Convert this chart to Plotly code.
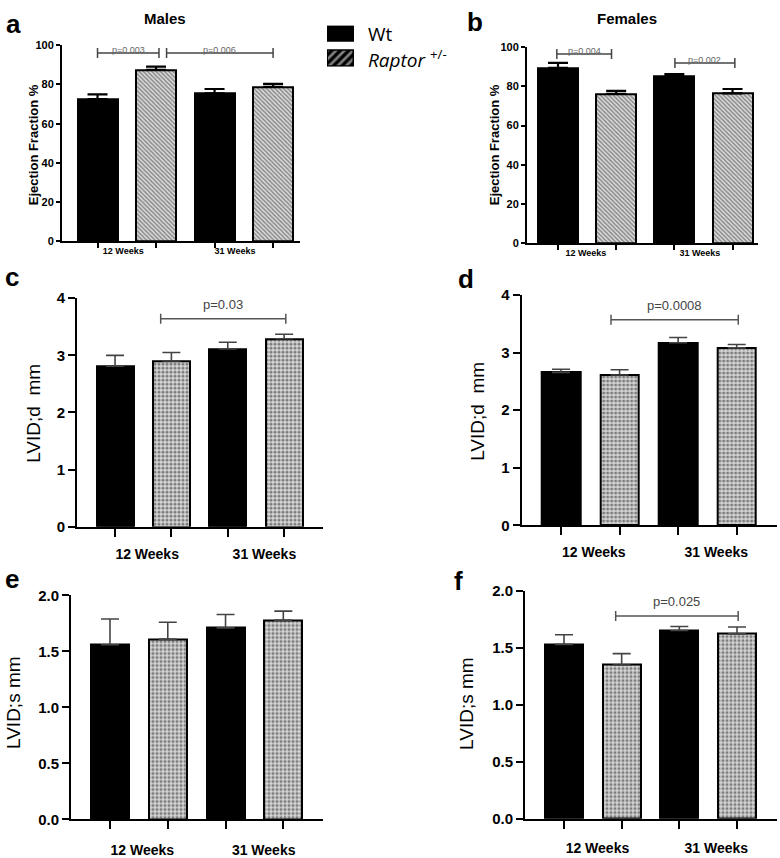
import plotly.graph_objects as go

# ---------------- data ----------------
groups = ["12 Weeks", "31 Weeks"]
series_names = ["Wt", "Raptor +/-"]

# a: Males, Ejection Fraction %
ef_male_wt = [72.5, 75.5]
ef_male_wt_err = [2.5, 2.2]
ef_male_rap = [87.5, 78.8]
ef_male_rap_err = [1.6, 1.5]

# b: Females, Ejection Fraction %
ef_female_wt = [89.5, 85.3]
ef_female_wt_err = [2.5, 1.0]
ef_female_rap = [76.2, 76.5]
ef_female_rap_err = [1.5, 2.2]

# c: Males, LVID;d mm
lvidd_male_wt = [2.81, 3.11]
lvidd_male_wt_err = [0.19, 0.12]
lvidd_male_rap = [2.90, 3.29]
lvidd_male_rap_err = [0.15, 0.08]

# d: Females, LVID;d mm
lvidd_female_wt = [2.655, 3.17]
lvidd_female_wt_err = [0.055, 0.09]
lvidd_female_rap = [2.61, 3.08]
lvidd_female_rap_err = [0.09, 0.06]

# e: Males, LVID;s mm
lvids_male_wt = [1.56, 1.71]
lvids_male_wt_err = [0.23, 0.12]
lvids_male_rap = [1.61, 1.78]
lvids_male_rap_err = [0.15, 0.08]

# f: Females, LVID;s mm
lvids_female_wt = [1.528, 1.65]
lvids_female_wt_err = [0.085, 0.035]
lvids_female_rap = [1.347, 1.62]
lvids_female_rap_err = [0.10, 0.06]

# significance brackets: (label, from, to, level)
brackets_a = [("p=0.003", 0.0, 1.05, 96.0), ("p=0.006", 1.18, 3.0, 96.0)]
brackets_b = [("p=0.004", -0.02, 0.92, 96.5), ("p=0.002", 2.01, 3.04, 92.0)]
brackets_c = [("p=0.03", 0.81, 3.03, 3.64)]
brackets_d = [("p=0.0008", 0.854, 3.027, 3.57)]
brackets_e = []
brackets_f = [("p=0.025", 0.896, 3.02, 1.777)]

W, H = 780, 858
FONT = "Liberation Sans, Arial, sans-serif"


def px_x(p):
    return p / W


def px_y(p):
    return 1 - p / H


panels = [
    dict(letter="a", wt=ef_male_wt, wt_err=ef_male_wt_err, rap=ef_male_rap, rap_err=ef_male_rap_err,
         brackets=brackets_a, ytitle="Ejection Fraction %", small=True, xlen=0,
         xdom=(62, 300), ydom=(37, 237), yrange=(0, 100), dtick=20, tickformat="d",
         xrange=(-0.607, 3.46), barw=0.684, lblpos=(0.44, 2.35),
         letter_pos=(13, 15), title_pos=(33, 139), title="Males", title_xy=(165, 10)),
    dict(letter="b", wt=ef_female_wt, wt_err=ef_female_wt_err, rap=ef_female_rap, rap_err=ef_female_rap_err,
         brackets=brackets_b, ytitle="Ejection Fraction %", small=True, xlen=0,
         xdom=(527, 758), ydom=(39, 239), yrange=(0, 100), dtick=20, tickformat="d",
         xrange=(-0.533, 3.438), barw=0.688, lblpos=(0.48, 2.44),
         letter_pos=(475, 13), title_pos=(494, 139), title="Females", title_xy=(627, 10)),
    dict(letter="c", wt=lvidd_male_wt, wt_err=lvidd_male_wt_err, rap=lvidd_male_rap, rap_err=lvidd_male_rap_err,
         brackets=brackets_c, ytitle="LVID;d\u00a0 mm", small=False, xlen=13,
         xdom=(77, 323), ydom=(295, 528.3), yrange=(0, 4), dtick=1, tickformat="d",
         xrange=(-0.675, 3.69), barw=0.657, lblpos=(0.57, 2.65),
         letter_pos=(12, 273), title_pos=(34, 413)),
    dict(letter="d", wt=lvidd_female_wt, wt_err=lvidd_female_wt_err, rap=lvidd_female_rap, rap_err=lvidd_female_rap_err,
         brackets=brackets_d, ytitle="LVID;d\u00a0 mm", small=False, xlen=13,
         xdom=(521.7, 776.7), ydom=(291.7, 526.7), yrange=(0, 4), dtick=1, tickformat="d",
         xrange=(-0.671, 3.683), barw=0.657, lblpos=(0.56, 2.65),
         letter_pos=(466, 275), title_pos=(478, 411)),
    dict(letter="e", wt=lvids_male_wt, wt_err=lvids_male_wt_err, rap=lvids_male_rap, rap_err=lvids_male_rap_err,
         brackets=brackets_e, ytitle="LVID;s mm", small=False, xlen=17,
         xdom=(71, 323), ydom=(598.3, 826.7), yrange=(0, 2), dtick=0.5, tickformat=".1f",
         xrange=(-0.675, 3.687), barw=0.658, lblpos=(0.56, 2.66),
         letter_pos=(12, 582), title_pos=(14, 708)),
    dict(letter="f", wt=lvids_female_wt, wt_err=lvids_female_wt_err, rap=lvids_female_rap, rap_err=lvids_female_rap_err,
         brackets=brackets_f, ytitle="LVID;s mm", small=False, xlen=16,
         xdom=(525, 776.7), ydom=(593.3, 826), yrange=(0, 2), dtick=0.5, tickformat=".1f",
         xrange=(-0.676, 3.688), barw=0.659, lblpos=(0.58, 2.64),
         letter_pos=(458, 584), title_pos=(467, 709)),
]

fig = go.Figure()
layout = dict(
    width=W, height=H, margin=dict(l=0, r=0, t=0, b=0),
    paper_bgcolor="white", plot_bgcolor="rgba(0,0,0,0)",
    showlegend=False, font=dict(family=FONT, color="black"),
    bargap=0,
)
annotations = []
shapes = []

wt_x = [2 * i for i in range(len(groups))]
rap_x = [2 * i + 1 for i in range(len(groups))]

for k, p in enumerate(panels, start=1):
    xa = "x" if k == 1 else f"x{k}"
    ya = "y" if k == 1 else f"y{k}"
    small = p["small"]
    if small:
        hatch = dict(shape="\\", fgcolor="#333333", bgcolor="#dedede", size=3, solidity=0.5)
        err_col, err_th, err_w, outline = "black", 2.2, 10, 2
    else:
        hatch = dict(shape=".", fgcolor="#222222", bgcolor="#d8d8d8", size=4, solidity=0.5)
        err_col, err_th, err_w, outline = "#444444", 1.6, 9, 2

    fig.add_trace(go.Bar(
        x=wt_x, y=p["wt"], width=p["barw"], name=series_names[0], xaxis=xa, yaxis=ya,
        marker=dict(color="black", line=dict(color="black", width=outline)),
        error_y=dict(type="data", symmetric=False, array=p["wt_err"], arrayminus=[0] * len(groups),
                     color=err_col, thickness=err_th, width=err_w),
        showlegend=False, hoverinfo="x+y"))
    fig.add_trace(go.Bar(
        x=rap_x, y=p["rap"], width=p["barw"], name=series_names[1], xaxis=xa, yaxis=ya,
        marker=dict(color="white", pattern=hatch, line=dict(color="black", width=outline)),
        error_y=dict(type="data", symmetric=False, array=p["rap_err"], arrayminus=[0] * len(groups),
                     color=err_col, thickness=err_th, width=err_w),
        showlegend=False, hoverinfo="x+y"))

    xkey = "xaxis" if k == 1 else f"xaxis{k}"
    ykey = "yaxis" if k == 1 else f"yaxis{k}"
    x0, x1 = p["xdom"]
    ytop, ybot = p["ydom"]
    layout[xkey] = dict(
        domain=[px_x(x0), px_x(x1)], range=list(p["xrange"]), anchor=ya,
        showline=True, linewidth=2, linecolor="black", showgrid=False, zeroline=False,
        tickmode="array", tickvals=list(p["lblpos"]), ticktext=groups,
        ticks="outside", ticklen=p["xlen"], tickcolor="rgba(0,0,0,0)",
        tickfont=dict(family=FONT, size=(9 if small else 14), weight="bold", color="black"),
        minor=dict(tickmode="array", tickvals=wt_x + rap_x, ticks="outside",
                   ticklen=(5 if small else 8), tickwidth=2, tickcolor="black", showgrid=False),
        fixedrange=True,
    )
    layout[ykey] = dict(
        domain=[px_y(ybot), px_y(ytop)], range=list(p["yrange"]), anchor=xa,
        showline=True, linewidth=2, linecolor="black", showgrid=False, zeroline=False,
        tickmode="linear", tick0=0, dtick=p["dtick"], tickformat=p["tickformat"],
        ticks="outside", ticklen=(4 if small else 7), tickwidth=2, tickcolor="black",
        tickfont=dict(family=FONT, size=(11 if small else 15), weight="bold", color="black"),
        fixedrange=True,
    )

    # panel letter
    lx, ly = p["letter_pos"]
    annotations.append(dict(text=f"<b>{p['letter']}</b>", x=px_x(lx), y=px_y(ly), xref="paper", yref="paper",
                            showarrow=False, xanchor="center", yanchor="middle",
                            font=dict(family=FONT, size=26, color="black")))
    # y title
    tx, ty = p["title_pos"]
    annotations.append(dict(text=(f"<b>{p['ytitle']}</b>" if small else p["ytitle"]),
                            x=px_x(tx), y=px_y(ty), xref="paper", yref="paper",
                            showarrow=False, textangle=-90, xanchor="center", yanchor="middle",
                            font=dict(family=FONT, size=(13 if small else 19), color="black")))
    if "title" in p:
        ttx, tty = p["title_xy"]
        annotations.append(dict(text=f"<b>{p['title']}</b>", x=px_x(ttx), y=px_y(tty), xref="paper", yref="paper",
                                showarrow=False, xanchor="center", yanchor="middle",
                                font=dict(family=FONT, size=15, color="black")))

    # brackets
    bcol = "#444444" if small else "#555555"
    for lab, bx0, bx1, by in p["brackets"]:
        shapes.append(dict(type="line", xref=xa, yref=ya, x0=bx0, x1=bx1, y0=by, y1=by,
                           line=dict(color=bcol, width=1.5)))
        for bx in (bx0, bx1):
            shapes.append(dict(type="line", xref=xa, yref=ya, x0=bx, x1=bx,
                               ysizemode="pixel", yanchor=by, y0=-5, y1=5,
                               line=dict(color=bcol, width=1.5)))
        annotations.append(dict(text=lab, x=(bx0 + bx1) / 2, y=by, xref=xa, yref=ya,
                                showarrow=False, xanchor="center", yanchor="middle",
                                yshift=(3 if small else 14),
                                font=dict(family=FONT, size=(9 if small else 13),
                                          color=("#666666" if small else "#444444"))))

# ---------------- legend (key swatches + labels) ----------------
legend_pos = [0, 1]
fig.add_trace(go.Bar(
    x=[1], y=[legend_pos[0]], orientation="h", width=0.615, xaxis="x7", yaxis="y7",
    marker=dict(color="black", line=dict(color="black", width=1.5)), showlegend=False, hoverinfo="skip"))
fig.add_trace(go.Bar(
    x=[1], y=[legend_pos[1]], orientation="h", width=0.615, xaxis="x7", yaxis="y7",
    marker=dict(color="black", pattern=dict(shape="/", fgcolor="white", bgcolor="black", size=6, solidity=0.45),
                line=dict(color="black", width=1.5)), showlegend=False, hoverinfo="skip"))
layout["xaxis7"] = dict(domain=[px_x(327), px_x(355)], range=[-0.03, 1.03], visible=False, anchor="y7", fixedrange=True)
layout["yaxis7"] = dict(domain=[px_y(59), px_y(17)], range=[1.3077, -0.3077], visible=False, anchor="x7", fixedrange=True)
annotations.append(dict(text=series_names[0], x=px_x(366), y=px_y(25), xref="paper", yref="paper",
                        showarrow=False, xanchor="left", yanchor="middle",
                        font=dict(family="Open Sans, sans-serif", size=19, color="black")))
annotations.append(dict(text="<i>Raptor</i> <sup>+/-</sup>", x=px_x(366), y=px_y(51), xref="paper", yref="paper",
                        showarrow=False, xanchor="left", yanchor="middle",
                        font=dict(family="Open Sans, sans-serif", size=19, color="black")))

layout["annotations"] = annotations
layout["shapes"] = shapes
fig.update_layout(**layout)
fig.write_html("out.html", config={"displayModeBar": False},
               post_script="document.body.style.margin='0px';document.body.style.overflow='hidden';")
